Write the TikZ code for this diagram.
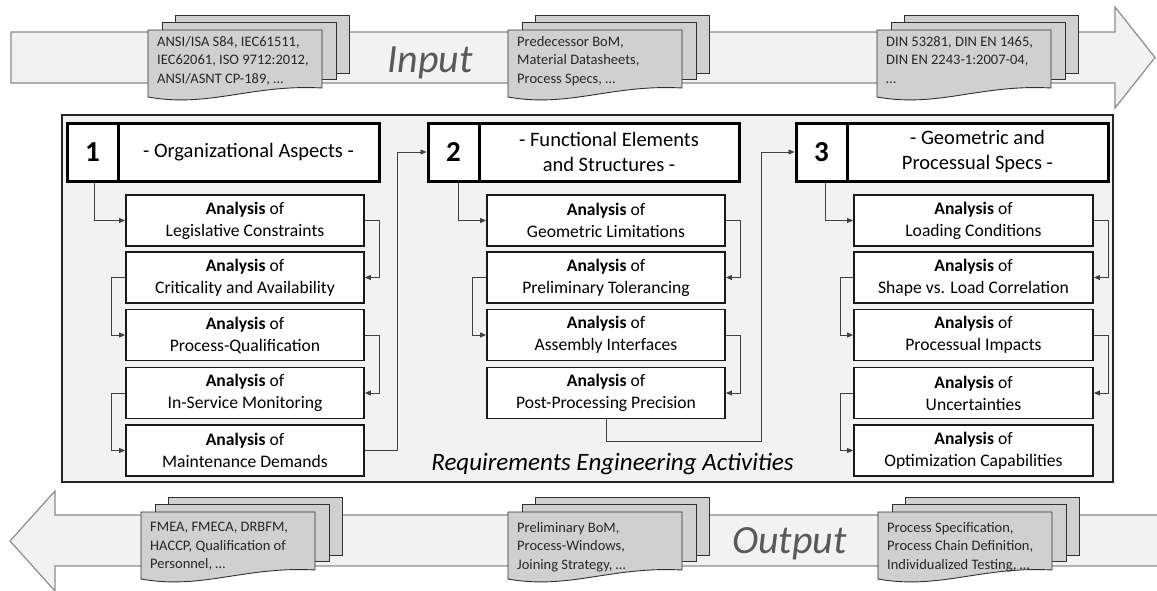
\documentclass[tikz,border=0pt]{standalone}
\usepackage{fontspec}
\setmainfont{Carlito}
\usetikzlibrary{arrows.meta,calc}
\definecolor{bandfill}{HTML}{F2F2F2}
\definecolor{bandline}{HTML}{8C8C8C}
\definecolor{docfill}{HTML}{D0D0D0}
\definecolor{docline}{HTML}{303030}
\definecolor{framefill}{HTML}{F2F2F2}
\definecolor{conncol}{HTML}{404040}
\definecolor{bigtext}{HTML}{595959}
\newcommand\docstack[5]{%
  \draw[docshape] ({#1+27},{#2-15}) rectangle ++(174,58);
  \draw[docshape] ({#1+14},{#2-8}) rectangle ++(174,57);
  \draw[docshape] ({#1},{#2}) -- ({#1+174},{#2}) -- ({#1+174},{#2+58})
     .. controls ({#1+104},{#2+54}) and ({#1+61},{#2+78}) .. ({#1},{#2+67}) -- cycle;
  \node[doctext] (#5) at ({#1+9},{#2+#4}) {#3};
}
\begin{document}
\begin{tikzpicture}[x=1pt,y=-1pt,
  band/.style={fill=bandfill, draw=bandline, line width=1.2pt, line join=miter},
  docshape/.style={fill=docfill, draw=docline, line width=0.9pt},
  doctext/.style={anchor=north west, inner sep=0pt, align=left, font=\fontsize{14.5}{18.5}\selectfont, text=black!85},
  frame/.style={draw=black!85, line width=1.8pt, fill=framefill, inner sep=0pt},
  anabox/.style={draw=black!90, line width=1.8pt, fill=white, minimum width=238pt, minimum height=51pt, inner sep=0pt, align=center, font=\fontsize{17.6}{22}\selectfont},
  numbox/.style={draw=black, line width=3pt, fill=white, minimum width=51pt, minimum height=58pt, inner sep=0pt, font=\fontsize{29}{30}\selectfont\bfseries},
  titlebox/.style={draw=black, line width=3pt, fill=white, minimum height=58pt, inner sep=0pt, align=center, font=\fontsize{20.5}{25}\selectfont},
  conn/.style={draw=conncol, line width=0.9pt, -{Triangle[length=6pt,width=5pt]}},
  bigword/.style={anchor=base, inner sep=0pt, text=bigtext, font=\fontsize{40}{44}\selectfont\itshape}
]
\useasboundingbox (0,0) rectangle (1157,590);

% ---------- Input band ----------
\draw[band] (11,32) -- (1115,32) -- (1115,7) -- (1155,57.5) -- (1115,108) -- (1115,83) -- (11,83) -- cycle;
\node[bigword] (inlabel) at (430,72) {Input};
\docstack{148}{30}{ANSI/ISA S84, IEC61511,\\IEC62061, ISO 9712:2012,\\ANSI/ASNT CP-189, …}{6}{in1}
\docstack{508}{30}{Predecessor BoM,\\Material Datasheets,\\Process Specs, …}{6}{in2}
\docstack{877}{30}{DIN 53281, DIN EN 1465,\\DIN EN 2243-1:2007-04,\\…}{6}{in3}

% ---------- Output band ----------
\draw[band] (1162,515) -- (55,515) -- (55,491) -- (10,541) -- (55,591) -- (55,566) -- (1162,566) -- cycle;
\node[bigword] (outlabel) at (789.5,553) {Output};
\docstack{141}{512}{FMEA, FMECA, DRBFM,\\HACCP, Qualification of\\Personnel, …}{10}{out1}
\docstack{508}{512}{Preliminary BoM,\\Process-Windows,\\Joining Strategy, …}{10}{out2}
\docstack{878}{512}{Process Specification,\\Process Chain Definition,\\Individualized Testing, …}{10}{out3}

% ---------- Main frame ----------
\node[frame, minimum width=1051pt, minimum height=367pt] (frame) at (587.5,298.5) {};
\node[anchor=base, inner sep=0pt, font=\fontsize{25}{28}\selectfont\itshape] (rea) at (612.5,470) {Requirements Engineering Activities};

% ---------- Headers ----------
\node[titlebox, minimum width=261pt] (t1) at (248.5,152) {- Organizational Aspects -};
\node[numbox] (n1) at (92.5,152) {1};
\node[titlebox, minimum width=260pt] (t2) at (609,152) {- Functional Elements\\and Structures -};
\node[numbox] (n2) at (453.5,152) {2};
\node[titlebox, minimum width=261pt] (t3) at (977.5,152) {- Geometric and\\Processual Specs -};
\node[numbox] (n3) at (821.5,152) {3};

% ---------- Column 1 ----------
\node[anabox] (a1) at (245,220.5) {\textbf{Analysis} of\\Legislative Constraints};
\node[anabox] (a2) at (245,277.5) {\textbf{Analysis} of\\Criticality and Availability};
\node[anabox] (a3) at (245,335) {\textbf{Analysis} of\\Process-Qualification};
\node[anabox] (a4) at (245,393) {\textbf{Analysis} of\\In-Service Monitoring};
\node[anabox] (a5) at (245,450.5) {\textbf{Analysis} of\\Maintenance Demands};

% ---------- Column 2 ----------
\node[anabox] (b1) at (606,220.5) {\textbf{Analysis} of\\Geometric Limitations};
\node[anabox] (b2) at (606,277.5) {\textbf{Analysis} of\\Preliminary Tolerancing};
\node[anabox] (b3) at (606,335) {\textbf{Analysis} of\\Assembly Interfaces};
\node[anabox] (b4) at (606,393) {\textbf{Analysis} of\\Post-Processing Precision};

% ---------- Column 3 ----------
\node[anabox, minimum width=239pt] (c1) at (973.5,220.5) {\textbf{Analysis} of\\Loading Conditions};
\node[anabox, minimum width=239pt] (c2) at (973.5,277.5) {\textbf{Analysis} of\\Shape vs. Load Correlation};
\node[anabox, minimum width=239pt] (c3) at (973.5,335) {\textbf{Analysis} of\\Processual Impacts};
\node[anabox, minimum width=239pt] (c4) at (973.5,393) {\textbf{Analysis} of\\Uncertainties};
\node[anabox, minimum width=239pt] (c5) at (973.5,450.5) {\textbf{Analysis} of\\Optimization Capabilities};

% ---------- Connectors ----------
\draw[conn] ([xshift=1.5pt]n1.south) |- (a1.west);
\draw[conn] (a1.east) -- ++(15,0) |- (a2.east);
\draw[conn] (a2.west) -- ++(-14,0) |- (a3.west);
\draw[conn] (a3.east) -- ++(15,0) |- (a4.east);
\draw[conn] (a4.west) -- ++(-14,0) |- (a5.west);
\draw[conn] (a5.east) -- ++(33,0) |- (n2.west);

\draw[conn] ([xshift=4.5pt]n2.south) |- (b1.west);
\draw[conn] (b1.east) -- ++(15,0) |- (b2.east);
\draw[conn] (b2.west) -- ++(-14,0) |- (b3.west);
\draw[conn] (b3.east) -- ++(15,0) |- (b4.east);
\coordinate (k) at (761,441);
\draw[conn] (b4.south) |- (k) |- (n3.west);

\draw[conn] ([xshift=3.5pt]n3.south) |- (c1.west);
\draw[conn] (c1.east) -- ++(15,0) |- (c2.east);
\draw[conn] (c2.west) -- ++(-13,0) |- (c3.west);
\draw[conn] (c3.east) -- ++(15,0) |- (c4.east);
\draw[conn] (c4.west) -- ++(-13,0) |- (c5.west);
\end{tikzpicture}
\end{document}
